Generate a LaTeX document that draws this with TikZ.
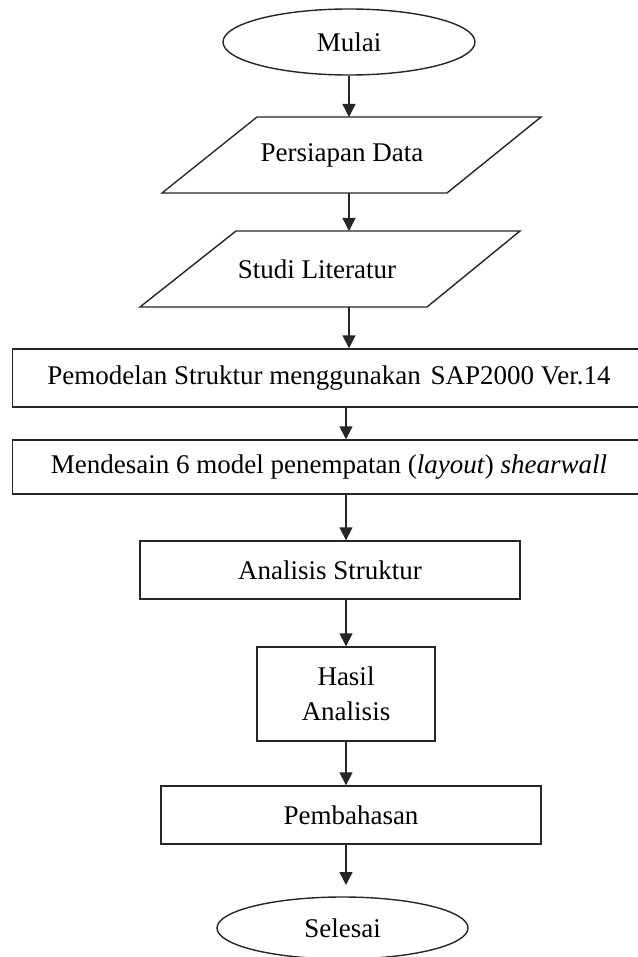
\documentclass[tikz,border=0pt]{standalone}
\usepackage{fontspec}
\setmainfont{Liberation Serif}
\usetikzlibrary{shapes.geometric,arrows.meta,calc}
\begin{document}
\begin{tikzpicture}[x=1pt,y=-1pt,
  line/.style={draw=black!85, line width=1.4pt},
  term/.style={ellipse, line, inner sep=0pt},
  procbox/.style={rectangle, line, inner sep=0pt, align=center},
  lbl/.style={inner sep=0pt},
  arr/.style={draw=black!85, line width=1.4pt, -{Triangle[length=13pt,width=13pt]}},
  every node/.append style={font=\fontsize{27}{35}\selectfont}
]
\useasboundingbox (0,0) rectangle (637,957);
\fill[white] (0,0) rectangle (637,957);

% Mulai
\node[term, minimum width=252pt, minimum height=66pt] (mulai) at (349,42) {Mulai};

% Persiapan Data (parallelogram)
\coordinate (pdA) at (162,193);
\coordinate (pdB) at (447,193);
\coordinate (pdC) at (541,117);
\coordinate (pdD) at (257,117);
\draw[line] (pdA) -- (pdB) -- (pdC) -- (pdD) -- cycle;
\node[lbl] (pd) at (342,155) {Persiapan Data};
\coordinate (pdtop) at (349,117);
\coordinate (pdbot) at (349,193);

% Studi Literatur (parallelogram)
\coordinate (slA) at (140,307);
\coordinate (slB) at (427,307);
\coordinate (slC) at (520,231);
\coordinate (slD) at (236,231);
\draw[line] (slA) -- (slB) -- (slC) -- (slD) -- cycle;
\node[lbl] (sl) at (317,269) {Studi Literatur};
\coordinate (sltop) at (349,231);
\coordinate (slbot) at (349,307);

% boxes
\node[procbox, minimum width=633pt, minimum height=58pt] (pem) at (329,378)
  {Pemodelan Struktur menggunakan\ \hspace{3pt}SAP2000 Ver.14};
\node[procbox, minimum width=633pt, minimum height=54pt] (men) at (329,467)
  {Mendesain 6 model penempatan (\textit{layout}) \textit{shearwall}};
\node[procbox, minimum width=380pt, minimum height=58pt] (ana) at (330,570)
  {Analisis Struktur};
\node[procbox, minimum width=178pt, minimum height=94pt] (has) at (346,694)
  {Hasil\\Analisis};
\node[procbox, minimum width=380pt, minimum height=58pt] (pemb) at (351,815)
  {Pembahasan};
\node[term, minimum width=251pt, minimum height=62pt] (sel) at (342.5,928) {Selesai};
\coordinate (selin) at (346,885);

% connectors
\draw[arr] (mulai.south) -- (pdtop);
\draw[arr] (pdbot) -- (sltop);
\draw[arr] (slbot) -- (slbot |- pem.north);
\draw[arr] (pem.south -| has) -- (men.north -| has);
\draw[arr] (men.south -| has) -- (ana.north -| has);
\draw[arr] (ana.south -| has) -- (has.north);
\draw[arr] (has.south) -- (has.south |- pemb.north);
\draw[arr] (pemb.south -| has) -- (selin);
\end{tikzpicture}
\end{document}
